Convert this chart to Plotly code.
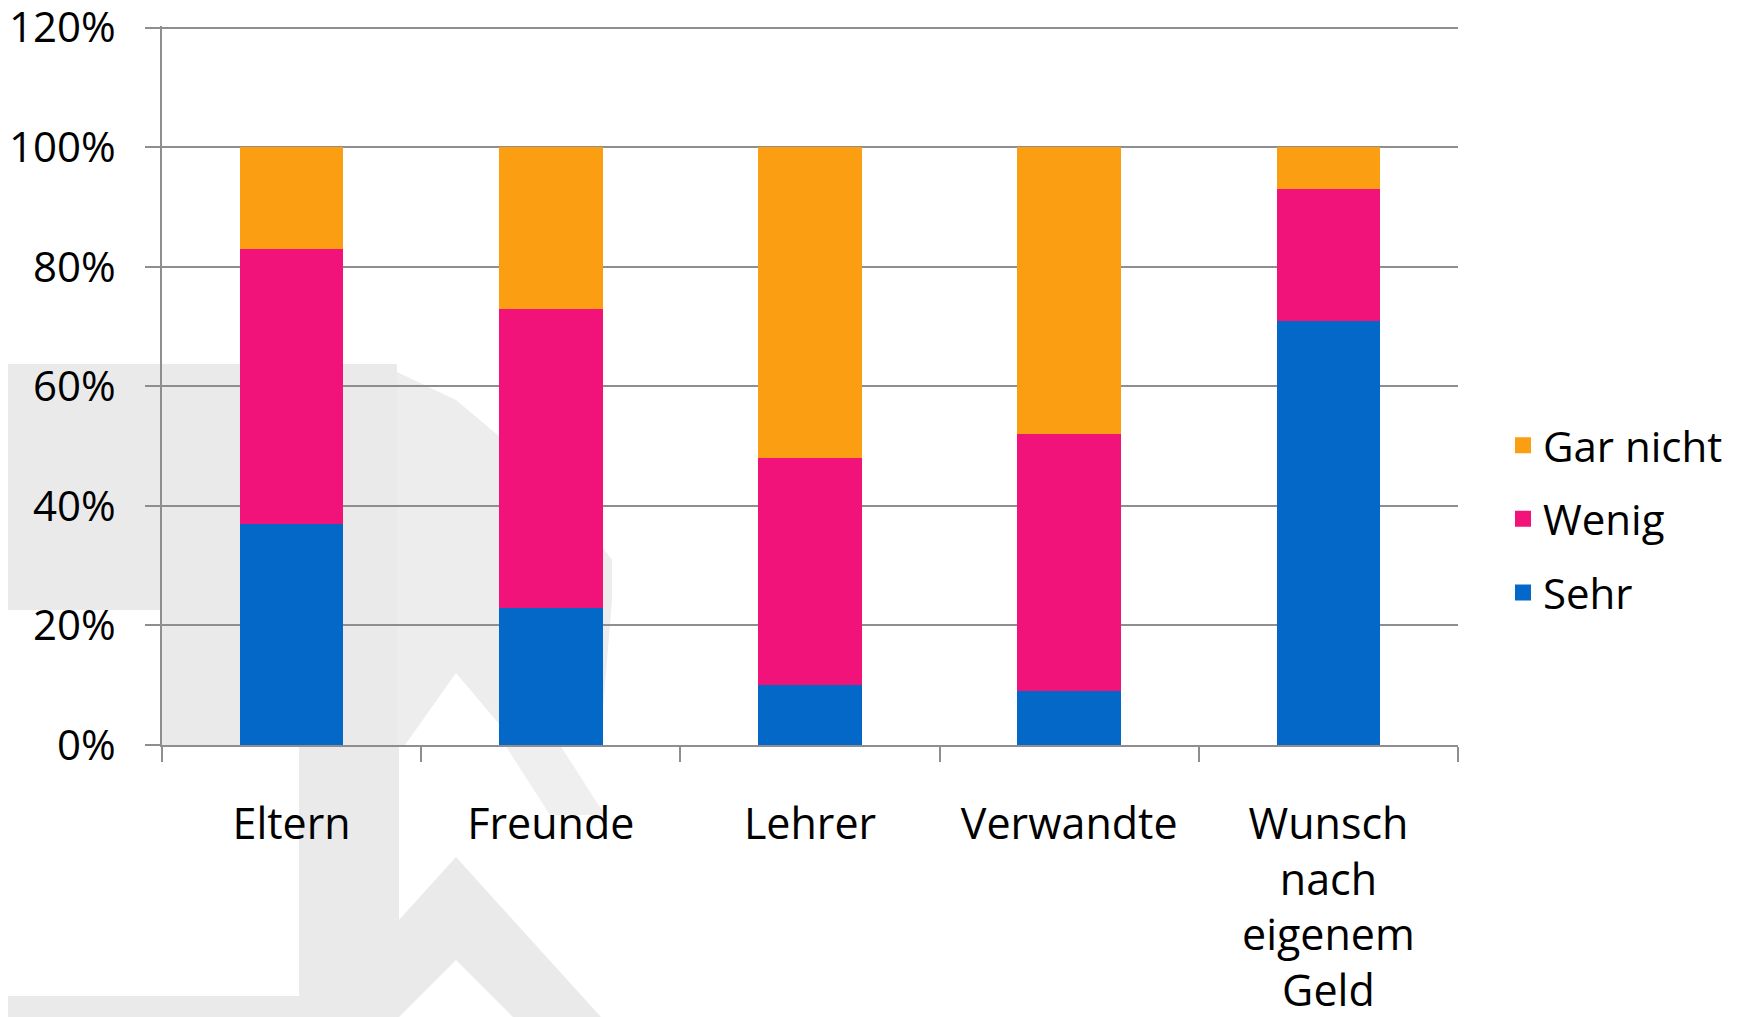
import plotly.graph_objects as go

# ---- data ----
categories = ["Eltern", "Freunde", "Lehrer", "Verwandte", "Wunsch nach eigenem Geld"]
category_labels = ["Eltern", "Freunde", "Lehrer", "Verwandte", "Wunsch<br>nach<br>eigenem<br>Geld"]
sehr = [0.37, 0.23, 0.10, 0.09, 0.71]
wenig = [0.46, 0.50, 0.38, 0.43, 0.22]
gar_nicht = [0.17, 0.27, 0.52, 0.48, 0.07]
series_names = ["Sehr", "Wenig", "Gar nicht"]
legend_ranks = [3, 2, 1]
y_ticks = [0, 0.2, 0.4, 0.6, 0.8, 1.0, 1.2]

colors = {"Sehr": "#0468C8", "Wenig": "#F2137A", "Gar nicht": "#FC9E12"}
FONT = "Open Sans, Lato, sans-serif"
GRID = "#8E8E8E"

# the page body adds an 8px offset; size the figure so it ends at the window edge
OFF = 8
W, H = 1742 - OFF, 1017 - OFF
L, R, T, B = 154, 284, 18.2, 272
PW, PH = W - L - R, H - T - B


def px(x):
    """reference-window x pixel -> paper coordinate"""
    return (x - OFF - L) / PW


def py(y):
    """reference-window y pixel -> paper coordinate"""
    return (H - B - (y - OFF)) / PH


fig = go.Figure()
for name, vals, rank in zip(series_names, [sehr, wenig, gar_nicht], legend_ranks):
    fig.add_trace(go.Bar(
        x=categories, y=vals, name=name, legendgroup=name, showlegend=False,
        legendrank=rank,
        marker=dict(color=colors[name], line=dict(width=0)),
    ))
    fig.add_trace(go.Scatter(
        x=[None], y=[None], mode="markers", name=name, legendgroup=name,
        legendrank=rank,
        marker=dict(symbol="square", size=26, color=colors[name]),
    ))

# faint watermark in the background
wm = "#EAEAEA"


def poly(points, color=wm):
    d = "M " + " L ".join(f"{px(x):.5f},{py(y):.5f}" for x, y in points) + " Z"
    return dict(type="path", xref="paper", yref="paper", path=d,
                fillcolor=color, line=dict(width=0), layer="below")


shapes = [
    poly([(0, 364), (397, 364), (397, 745), (162, 745), (162, 610), (0, 610)]),
    poly([(397, 372), (456, 400), (500, 437), (560, 490), (612, 560), (612, 600),
          (600, 745), (500, 745), (500, 725), (456, 673), (405, 745), (397, 745)], "#EDEDED"),
    poly([(299, 745), (399, 745), (399, 998), (299, 998)]),
    poly([(505, 745), (560, 745), (605, 815), (550, 815)], "#EFEFEF"),
    poly([(311, 1017), (456, 857), (601, 1017), (513, 1017), (456, 960), (399, 1017)]),
    poly([(0, 996), (397, 996), (397, 1017), (0, 1017)]),
]

fig.update_layout(
    width=W, height=H,
    margin=dict(l=L, r=R, t=T, b=B, autoexpand=False),
    paper_bgcolor="white", plot_bgcolor="rgba(0,0,0,0)",
    barmode="stack", bargap=0.6,
    font=dict(family=FONT, size=42, color="black"),
    shapes=shapes,
    legend=dict(
        x=px(1503), xanchor="left", y=py(519), yanchor="middle",
        traceorder="grouped", tracegroupgap=16,
        font=dict(family=FONT, size=42, color="black"),
        bgcolor="rgba(0,0,0,0)",
    ),
    xaxis=dict(
        type="category", tickmode="array", tickvals=categories, ticktext=category_labels,
        tickson="boundaries", ticks="outside", ticklen=15, tickcolor=GRID, tickwidth=1.5,
        showline=True, linecolor=GRID, linewidth=2, showgrid=False, automargin=False,
        tickfont=dict(family=FONT, size=43, color="black"), ticklabelstandoff=40,
        range=[-0.5, 4.5],
    ),
    yaxis=dict(
        range=[0, 1.203], tickvals=y_ticks, tickformat=".0%",
        showgrid=True, gridcolor=GRID, gridwidth=1.5, automargin=False,
        ticks="outside", ticklen=15, tickcolor=GRID, tickwidth=1.5,
        showline=True, linecolor=GRID, linewidth=1.5, zeroline=False,
        ticklabeloverflow="allow",
        tickfont=dict(family=FONT, size=42, color="black"), ticklabelstandoff=21,
    ),
)

fig.write_html("out.html")
